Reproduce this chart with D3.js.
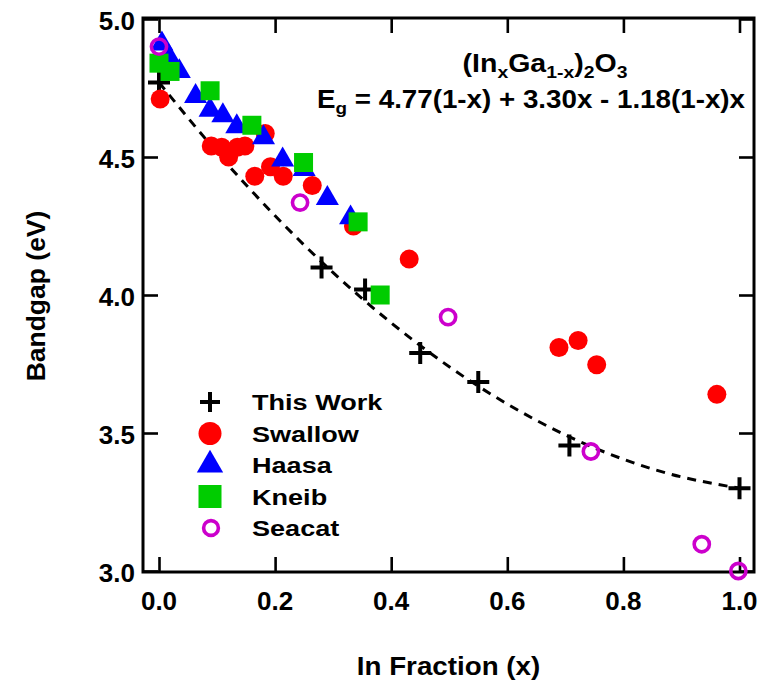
<!DOCTYPE html>
<html>
<head>
<meta charset="utf-8">
<script src="https://cdn.jsdelivr.net/npm/d3@7"></script>
<style>
  html, body { margin: 0; padding: 0; background: #fff; }
  svg { display: block; }
  text { font-family: "Liberation Sans", Arial, sans-serif; font-weight: bold; fill: #000; }
</style>
</head>
<body>
<svg id="chart" width="761" height="681"></svg>
<script>
// ---------------- data ----------------
const xTicks = [0.0, 0.2, 0.4, 0.6, 0.8, 1.0];
const yTicks = [3.0, 3.5, 4.0, 4.5, 5.0];

const thisWorkX = [0.0, 0.28, 0.355, 0.45, 0.55, 0.707, 1.0];
const thisWorkY = [4.77, 4.10, 4.02, 3.79, 3.685, 3.455, 3.30];

const swallowX = [0.002, 0.09, 0.108, 0.12, 0.135, 0.148, 0.183, 0.165, 0.192, 0.214, 0.264, 0.335, 0.431, 0.689, 0.722, 0.754, 0.961];
const swallowY = [4.71, 4.54, 4.535, 4.50, 4.535, 4.54, 4.585, 4.43, 4.465, 4.43, 4.397, 4.25, 4.13, 3.81, 3.835, 3.747, 3.64];

const haasaX = [0.005, 0.018, 0.035, 0.063, 0.088, 0.11, 0.134, 0.18, 0.213, 0.25, 0.29, 0.33];
const haasaY = [4.91, 4.86, 4.81, 4.72, 4.67, 4.65, 4.61, 4.57, 4.49, 4.455, 4.35, 4.28];

const kneibX = [0.0, 0.019, 0.088, 0.16, 0.249, 0.343, 0.381];
const kneibY = [4.84, 4.81, 4.74, 4.615, 4.48, 4.265, 4.0];

const seacatX = [0.0, 0.243, 0.498, 0.744, 0.935, 0.998];
const seacatY = [4.90, 4.335, 3.92, 3.433, 3.097, 3.0];

// dashed fit curve
const fitX = [0.0, 0.1, 0.2, 0.3, 0.4, 0.5, 0.6, 0.7, 0.8, 0.9, 1.0];
const fitY = [4.77, 4.517, 4.287, 4.081, 3.899, 3.74, 3.605, 3.493, 3.405, 3.341, 3.30];

const legendLabels = ["This Work", "Swallow", "Haasa", "Kneib", "Seacat"];

// ---------------- layout ----------------
const svg = d3.select("#chart");
const L = 143, R = 754, T = 18, B = 572;
const x = d3.scaleLinear().domain([(143 - 159) / 580.5, (754 - 159) / 580.5]).range([L, R]);
const y = d3.scaleLinear().domain([3, 5]).range([B - 1, T + 1]);

const red = "#ff0000", blue = "#0000ff", green = "#00cc00", mag = "#cc00cc";

// fit curve
const fitLine = d3.line().x(d => x(d[0])).y(d => y(d[1])).curve(d3.curveNatural);
svg.append("path")
  .datum(fitX.map((v, i) => [v, fitY[i]]))
  .attr("d", fitLine)
  .attr("fill", "none").attr("stroke", "#000")
  .attr("stroke-width", 3).attr("stroke-dasharray", "9,7");

// axes (inward ticks)
const tickLen = 15;
const gB = svg.append("g").attr("transform", `translate(0,${B})`)
  .call(d3.axisBottom(x).tickValues(xTicks).tickSize(-tickLen).tickFormat(""));
const gT = svg.append("g").attr("transform", `translate(0,${T})`)
  .call(d3.axisTop(x).tickValues(xTicks).tickSize(-tickLen).tickFormat(""));
const gL = svg.append("g").attr("transform", `translate(${L},0)`)
  .call(d3.axisLeft(y).tickValues(yTicks).tickSize(-tickLen).tickFormat(""));
const gR = svg.append("g").attr("transform", `translate(${R},0)`)
  .call(d3.axisRight(y).tickValues(yTicks).tickSize(-tickLen).tickFormat(""));
[gB, gT, gL, gR].forEach(g => {
  g.select(".domain").remove();
  g.selectAll(".tick line").attr("stroke", "#000").attr("stroke-width", 2.6);
});

// frame
svg.append("rect").attr("x", L).attr("y", T).attr("width", R - L).attr("height", B - T)
  .attr("fill", "none").attr("stroke", "#000").attr("stroke-width", 3);

// tick labels
svg.append("g").selectAll("text").data(xTicks).join("text")
  .attr("x", d => x(d)).attr("y", B + 38)
  .attr("text-anchor", "middle").attr("font-size", 26)
  .text(d => d.toFixed(1));
svg.append("g").selectAll("text").data(yTicks).join("text")
  .attr("x", 135).attr("y", d => y(d) + 11)
  .attr("text-anchor", "end").attr("font-size", 26)
  .text(d => d.toFixed(1));

// axis titles (text in the reference is a little wider than Liberation Sans)
svg.append("text").attr("transform", `translate(${(L + R) / 2},675) scale(1.11,1)`)
  .attr("text-anchor", "middle").attr("font-size", 25).text("In Fraction (x)");
svg.append("text").attr("transform", `translate(45,${(T + B) / 2 + 1}) rotate(-90) scale(1.06,1)`)
  .attr("text-anchor", "middle").attr("font-size", 25).text("Bandgap (eV)");

// ---------------- markers ----------------
const plusPath = (s) => `M${-s/2},0H${s/2}M0,${-s/2}V${s/2}`;
function drawPlus(g, cx, cy, s) {
  g.append("path").attr("transform", `translate(${cx},${cy})`).attr("d", plusPath(s))
    .attr("stroke", "#000").attr("stroke-width", 4).attr("fill", "none");
}
const sym = (type, size) => d3.symbol().type(type).size(size)();

const gm = svg.append("g");
thisWorkX.forEach((v, i) => drawPlus(gm, x(v), y(thisWorkY[i]), 22));

gm.append("g").selectAll("circle").data(swallowX).join("circle")
  .attr("cx", d => x(d)).attr("cy", (d, i) => y(swallowY[i])).attr("r", 9.5).attr("fill", red);

gm.append("g").selectAll("path").data(haasaX).join("path")
  .attr("transform", (d, i) => `translate(${x(d)},${y(haasaY[i])})`)
  .attr("d", sym(d3.symbolTriangle, 230)).attr("fill", blue);

gm.append("g").selectAll("rect").data(kneibX).join("rect")
  .attr("x", d => x(d) - 9.5).attr("y", (d, i) => y(kneibY[i]) - 9.5)
  .attr("width", 19).attr("height", 19).attr("fill", green);

gm.append("g").selectAll("circle").data(seacatX).join("circle")
  .attr("cx", d => x(d)).attr("cy", (d, i) => y(seacatY[i])).attr("r", 7.6)
  .attr("fill", "none").attr("stroke", mag).attr("stroke-width", 3.6);

// ---------------- legend ----------------
const lg = svg.append("g");
const lx = 210, ltx = 252, lBase = 410, lStep = 31.5;
legendLabels.forEach((lab, i) => {
  const by = lBase + i * lStep;
  const cy = by - 8;
  if (i === 0) drawPlus(lg, lx, cy, 20);
  if (i === 1) lg.append("circle").attr("cx", lx).attr("cy", cy).attr("r", 11.5).attr("fill", red);
  if (i === 2) lg.append("path").attr("transform", `translate(${lx},${cy})`).attr("d", sym(d3.symbolTriangle, 300)).attr("fill", blue);
  if (i === 3) lg.append("rect").attr("x", lx - 11.5).attr("y", cy - 11.5).attr("width", 23).attr("height", 23).attr("fill", green);
  if (i === 4) lg.append("circle").attr("cx", lx + 1).attr("cy", cy).attr("r", 7.4).attr("fill", "none").attr("stroke", mag).attr("stroke-width", 3.6);
  lg.append("text").attr("transform", `translate(${ltx},${by}) scale(1.23,1)`).attr("font-size", 22).text(lab);
});

// ---------------- annotation ----------------
const t1 = svg.append("text").attr("transform", "translate(545,72) scale(1.14,1)").attr("text-anchor", "middle").attr("font-size", 25);
t1.append("tspan").text("(In");
t1.append("tspan").attr("font-size", 17).attr("dy", 6).text("x");
t1.append("tspan").attr("dy", -6).text("Ga");
t1.append("tspan").attr("font-size", 17).attr("dy", 6).text("1-x");
t1.append("tspan").attr("dy", -6).text(")");
t1.append("tspan").attr("font-size", 17).attr("dy", 6).text("2");
t1.append("tspan").attr("dy", -6).text("O");
t1.append("tspan").attr("font-size", 17).attr("dy", 6).text("3");

const t2 = svg.append("text").attr("transform", "translate(745,108) scale(1.11,1)").attr("text-anchor", "end").attr("font-size", 25);
t2.append("tspan").text("E");
t2.append("tspan").attr("font-size", 17).attr("dy", 6).text("g");
t2.append("tspan").attr("dy", -6).text(" = 4.77(1-x) + 3.30x - 1.18(1-x)x");
</script>
</body>
</html>
